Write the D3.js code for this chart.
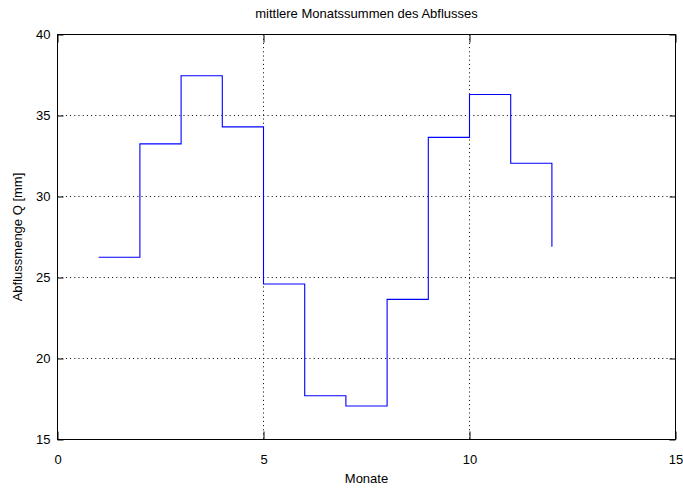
<!DOCTYPE html>
<html>
<head>
<meta charset="utf-8">
<script src="https://cdn.jsdelivr.net/npm/d3@7/dist/d3.min.js"></script>
<style>
  html, body { margin: 0; padding: 0; background: #fff; }
  svg { display: block; }
  text { font-family: "Liberation Sans", Arial, sans-serif; fill: #000; }
</style>
</head>
<body>
<svg id="chart" width="683" height="490"></svg>
<script>
// Data
const months = [1, 2, 3, 4, 5, 6, 7, 8, 9, 10, 11, 12];
const runoff = [26.25, 33.25, 37.45, 34.3, 24.6, 17.7, 17.07, 23.65, 33.65, 36.3, 32.05, 26.9];
const xTicks = [0, 5, 10, 15];
const yTicks = [15, 20, 25, 30, 35, 40];
const titleText = "mittlere Monatssummen des Abflusses";
const xLabelText = "Monate";
const yLabelText = "Abflussmenge Q [mm]";

const svg = d3.select("#chart");
const L = 57.5, R = 675.5, T = 34.5, B = 439.5;

const x = d3.scaleLinear().domain([0, 15]).range([L, R]);
const y = d3.scaleLinear().domain([15, 40]).range([B, T]);

// grid
const grid = svg.append("g");
grid.selectAll("line.gx").data(xTicks.filter(d => d > 0 && d < 15)).join("line")
  .attr("x1", d => x(d)).attr("x2", d => x(d))
  .attr("y1", T).attr("y2", B)
  .attr("stroke", "#000").attr("stroke-width", 1)
  .attr("stroke-dasharray", "1,3.2");
grid.selectAll("line.gy").data(yTicks.filter(d => d > 15 && d < 40)).join("line")
  .attr("x1", L).attr("x2", R)
  .attr("y1", d => y(d)).attr("y2", d => y(d))
  .attr("stroke", "#000").attr("stroke-width", 1)
  .attr("stroke-dasharray", "1,3.2");

// axes with inward ticks
const axB = d3.axisBottom(x).tickValues(xTicks).tickSize(-8).tickPadding(15).tickFormat(d3.format("d"));
const axT = d3.axisTop(x).tickValues(xTicks).tickSize(-8).tickFormat("");
const axLf = d3.axisLeft(y).tickValues(yTicks).tickSize(-6).tickPadding(7).tickFormat(d3.format("d"));
const axRt = d3.axisRight(y).tickValues(yTicks).tickSize(-6).tickFormat("");

function style(g) {
  g.select(".domain").remove();
  g.selectAll(".tick line").attr("stroke", "#000").attr("stroke-width", 1);
  g.selectAll(".tick text").style("font-family", '"Liberation Sans", Arial, sans-serif').style("font-size", "13px").attr("fill", "#000");
}
svg.append("g").attr("transform", `translate(0,${B})`).call(axB).call(style);
svg.append("g").attr("transform", `translate(0,${T})`).call(axT).call(style);
svg.append("g").attr("transform", `translate(${L},0)`).call(axLf).call(style);
svg.append("g").attr("transform", `translate(${R},0)`).call(axRt).call(style);

// frame
svg.append("rect").attr("x", L).attr("y", T).attr("width", R - L).attr("height", B - T)
  .attr("fill", "none").attr("stroke", "#000").attr("stroke-width", 1);

// stairs line
const pts = months.map((m, i) => [m, runoff[i]]);
const line = d3.line().x(d => x(d[0])).y(d => y(d[1])).curve(d3.curveStepAfter);
svg.append("path").datum(pts).attr("d", line)
  .attr("fill", "none").attr("stroke", "#0000ff").attr("stroke-width", 1.1);

// title and labels
svg.append("text").attr("x", (L + R) / 2).attr("y", 17.5).attr("text-anchor", "middle")
  .style("font-size", "13px").text(titleText);
svg.append("text").attr("x", (L + R) / 2).attr("y", 483).attr("text-anchor", "middle")
  .style("font-size", "13px").text(xLabelText);
svg.append("text").attr("transform", `translate(22,${(T + B) / 2}) rotate(-90)`).attr("text-anchor", "middle")
  .style("font-size", "13px").text(yLabelText);
</script>
</body>
</html>
